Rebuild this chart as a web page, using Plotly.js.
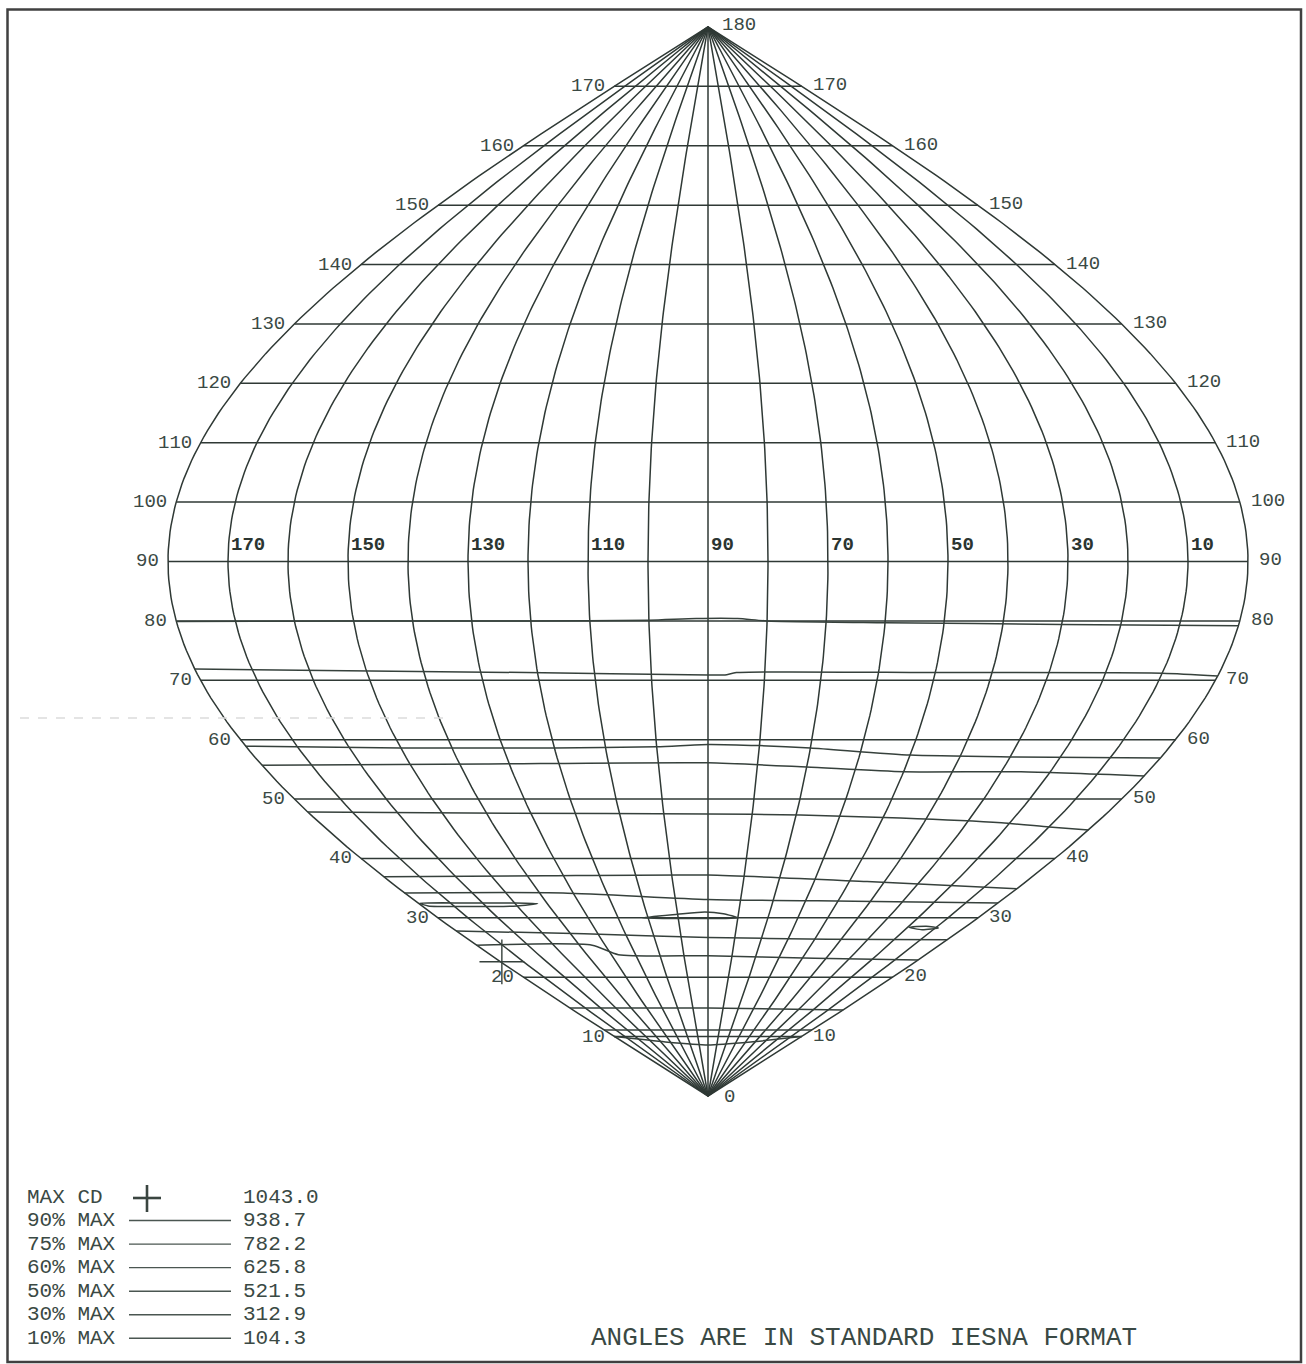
<!DOCTYPE html>
<html><head><meta charset="utf-8">
<script src="https://cdn.plot.ly/plotly-3.0.1.min.js"></script>
<style>html,body{margin:0;padding:0;background:#fff;}</style>
</head><body><div id="chart" style="width:1306px;height:1364px;"></div>
<script>
// ---------- DATA ----------
// vertical angles (parallels) and horizontal angles (meridians), degrees
const parallelAngles = [10,20,30,40,50,60,70,80,90,100,110,120,130,140,150,160,170];
const verticalLabels = [10,20,30,40,50,60,70,80,90,100,110,120,130,140,150,160,170];
const meridianAngles = [0,10,20,30,40,50,60,70,80,90,100,110,120,130,140,150,160,170,180];
const horizontalLabels = [170,150,130,110,90,70,50,30,10];

// isocandela traces: horizontal angle H and vertical angle V
const cA_H = [180,150,120,100,92,85,80,60,30,0];
const cA_V = [79.9,80.0,80.0,80.1,80.4,80.4,80.0,79.7,79.4,79.2];
const cB_H = [180,122,90,87,85,50,10,0];
const cB_V = [71.9,71.3,70.9,70.9,71.3,71.3,71.2,70.7];
const cC_H = [180,150,120,100,90,80,70,50,30,0];
const cC_V = [58.9,58.6,58.6,58.8,59.2,59.0,58.6,57.4,57.1,56.9];
const cD_H = [180,135,90,70,50,26,0];
const cD_V = [55.7,55.9,56.1,55.4,54.6,54.6,53.9];
const cE_H = [180,135,90,69,46,22,10,0];
const cE_V = [47.8,47.6,47.5,47.3,46.8,46.0,45.3,44.8];
const cF_H = [180,135,90,45,0];
const cF_V = [36.9,37.1,37.2,36.1,34.9];
const cG_H = [180,133,90,45,0];
const cG_V = [34.2,34.2,33.1,32.8,32.5];
const cH_H = [179.5,165,150,143,150,165,178,179.5];
const cH_V = [32.45,32.5,32.5,32.4,32.0,31.9,32.0,32.45];
const cI_H = [112,100,91,85,80,85,95,105,112];
const cI_V = [30.0,30.6,31.0,30.7,30.0,29.9,29.9,29.9,30.0];
const cJ_H = [19.5,14,9,14,19.5];
const cJ_V = [28.4,28.6,28.3,28.0,28.4];
const cK_H = [180,135,90,45,0];
const cK_V = [27.8,27.3,26.7,26.4,26.3];
const cL_H = [180,135,127,90,45,0];
const cL_V = [25.4,25.4,23.8,23.6,23.2,22.9];
const cM_H = [180,90,0];
const cM_V = [14.8,14.8,14.5];
const cN_H = [180,90,0];
const cN_V = [11.1,11.1,11.1];
const cO_H = [180,135,90,45,0];
const cO_V = [10.0,9.1,8.6,9.1,10.0];

// maximum candela point
const maxCdH = [179.4];
const maxCdV = [22.6];

// legend
const legendLabels = ["MAX CD","90% MAX","75% MAX","60% MAX","50% MAX","30% MAX","10% MAX"];
const legendValues = ["1043.0","938.7","782.2","625.8","521.5","312.9","104.3"];
const footnote = "ANGLES ARE IN STANDARD IESNA FORMAT";

// ---------- DRAWING ----------
const W = 1306, Hpx = 1364;
const CX = 708, Y0 = 1096, SX = 6, SY = 5.939;
const deg = Math.PI/180;
function proj(h, v){ return (90 - h) * Math.sin(v*deg); }
const lineColor = '#2f3935';
const textColor = '#3a4944';
const mono = 'Liberation Mono, Courier New, monospace';

const traces = [];
// grid
const gx = [], gy = [];
parallelAngles.forEach(v => { gx.push(proj(180,v), proj(0,v), null); gy.push(v, v, null); });
meridianAngles.forEach(h => {
  for (let v = 0; v <= 180; v += 1) { gx.push(proj(h, v)); gy.push(v); }
  gx.push(null); gy.push(null);
});
traces.push({type:'scatter', mode:'lines', x:gx, y:gy, line:{color:lineColor, width:1.5}, hoverinfo:'skip'});

// contours
const contours = [[cA_H,cA_V],[cB_H,cB_V],[cC_H,cC_V],[cD_H,cD_V],[cE_H,cE_V],[cF_H,cF_V],
  [cG_H,cG_V],[cH_H,cH_V],[cI_H,cI_V],[cJ_H,cJ_V],[cK_H,cK_V],[cL_H,cL_V],[cM_H,cM_V],[cN_H,cN_V],[cO_H,cO_V]];
contours.forEach(([hs, vs]) => {
  traces.push({type:'scatter', mode:'lines', x:hs.map((h,i)=>proj(h, vs[i])), y:vs.slice(),
    line:{color:'#36413c', width:1.5, shape:'spline', smoothing:0.6}, hoverinfo:'skip'});
});
// max point
traces.push({type:'scatter', mode:'markers', x:maxCdH.map((h,i)=>proj(h,maxCdV[i])), y:maxCdV,
  marker:{symbol:'cross-thin', size:32, line:{color:'#36413c', width:1.4}}, hoverinfo:'skip'});

const annotations = [];
const shapes = [];
const vf = {family:mono, size:19, color:textColor};
verticalLabels.forEach(v => {
  annotations.push({x:proj(180,v), y:v, xref:'x', yref:'y', text:String(v), showarrow:false,
    xanchor:'right', yanchor:'middle', xshift:-7, font:vf});
  annotations.push({x:proj(0,v), y:v, xref:'x', yref:'y', text:String(v), showarrow:false,
    xanchor:'left', yanchor:'middle', xshift:9, yshift:1, font:vf});
});
annotations.push({x:0, y:180, xref:'x', yref:'y', text:'180', showarrow:false, xanchor:'left', yanchor:'middle', xshift:12, yshift:2, font:vf});
annotations.push({x:0, y:0, xref:'x', yref:'y', text:'0', showarrow:false, xanchor:'left', yanchor:'middle', xshift:14, yshift:-1, font:vf});
horizontalLabels.forEach(h => {
  annotations.push({x:proj(h,90), y:90, xref:'x', yref:'y', text:'<b>'+h+'</b>', showarrow:false,
    xanchor:'left', yanchor:'bottom', xshift:1, yshift:3, font:{family:mono, size:19, color:'#2b3531'}});
});

// legend (paper coordinates)
const px = x => x / W, py = y => 1 - y / Hpx;
const rowY0 = 1197, rowDY = 23.55;
legendLabels.forEach((lab, i) => {
  const yy = rowY0 + i*rowDY;
  annotations.push({x:px(25), y:py(yy), xref:'paper', yref:'paper', text:lab, showarrow:false,
    xanchor:'left', yanchor:'middle', font:{family:mono, size:21, color:textColor}});
  annotations.push({x:px(241), y:py(yy), xref:'paper', yref:'paper', text:legendValues[i], showarrow:false,
    xanchor:'left', yanchor:'middle', font:{family:mono, size:21, color:textColor}});
  if (i > 0) {
    shapes.push({type:'line', xref:'paper', yref:'paper', x0:px(129), x1:px(231), y0:py(yy), y1:py(yy),
      line:{color:'#4a5651', width:1.4}});
  } else {
    shapes.push({type:'line', xref:'paper', yref:'paper', x0:px(133), x1:px(161), y0:py(yy+1), y1:py(yy+1), line:{color:'#3a4540', width:2.6}});
    shapes.push({type:'line', xref:'paper', yref:'paper', x0:px(147), x1:px(147), y0:py(yy-12), y1:py(yy+15), line:{color:'#3a4540', width:2.6}});
  }
});
annotations.push({x:px(864), y:py(1338), xref:'paper', yref:'paper', text:footnote, showarrow:false,
  xanchor:'center', yanchor:'middle', font:{family:mono, size:26, color:textColor}});

// faint scan dash at left
shapes.push({type:'line', xref:'paper', yref:'paper', x0:px(20), x1:px(445), y0:py(718), y1:py(718),
  line:{color:'#dcdcdc', width:1.5, dash:'dash'}});

// frame
shapes.push({type:'rect', xref:'paper', yref:'paper', x0:px(7.5), x1:px(1301), y0:py(9.5), y1:py(1362),
  line:{color:'#404040', width:2.5}});

const layout = {
  width: W, height: Hpx, autosize:false,
  margin:{l:0,r:0,t:0,b:0,pad:0},
  paper_bgcolor:'#ffffff', plot_bgcolor:'#ffffff',
  showlegend:false,
  xaxis:{range:[-CX/SX, (W-CX)/SX], visible:false, fixedrange:true},
  yaxis:{range:[(Y0-Hpx)/SY, Y0/SY], visible:false, fixedrange:true},
  annotations, shapes
};
Plotly.newPlot('chart', traces, layout, {displayModeBar:false, staticPlot:true});
</script></body></html>
